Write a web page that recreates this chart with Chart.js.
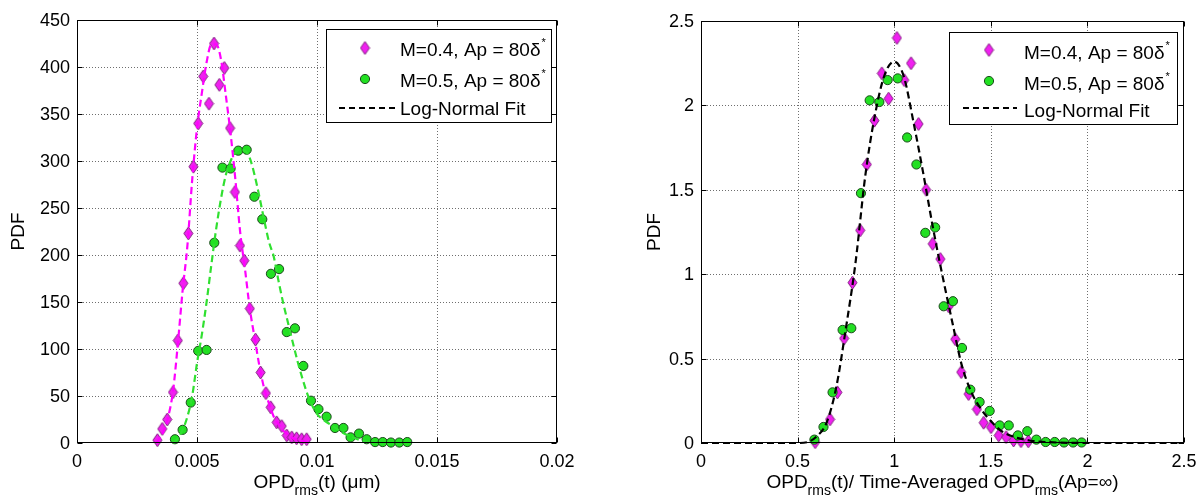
<!DOCTYPE html>
<html>
<head>
<meta charset="utf-8">
<script src="https://cdn.jsdelivr.net/npm/chart.js@4.4.0/dist/chart.umd.min.js"></script>
<style>
  html, body { margin: 0; padding: 0; background: #fff; }
  #wrap { position: relative; width: 1202px; height: 499px; overflow: hidden; }
  canvas { position: absolute; top: 0; }
  #leftChart { left: 0; }
  #rightChart { left: 600px; }
</style>
</head>
<body>
<div id="wrap">
  <canvas id="leftChart" width="600" height="499"></canvas>
  <canvas id="rightChart" width="602" height="499"></canvas>
</div>
<script>
// ========== DATA ==========

// left panel: OPDrms(t) in um
const leftM04X = [0.00335, 0.00355, 0.00376, 0.00400, 0.00420, 0.00443, 0.00464, 0.00485, 0.00505, 0.00526,
                  0.00550, 0.00571, 0.00593, 0.00614, 0.00638, 0.00658, 0.00679, 0.00697, 0.00720, 0.00744,
                  0.00765, 0.00787, 0.00807, 0.00832, 0.00853, 0.00874, 0.00895, 0.00915, 0.00936, 0.00957];
const leftM04Y = [3, 15, 25, 54, 109, 170, 223, 294, 340, 390,
                  361, 425, 381, 399, 335, 267, 210, 194, 143, 110,
                  75, 53, 38, 22, 18, 8, 6, 5, 4, 4];

const leftM05X = [0.00408, 0.00440, 0.00474, 0.00505, 0.00540, 0.00572, 0.00606, 0.00640, 0.00672, 0.00707,
                  0.00739, 0.00772, 0.00808, 0.00842, 0.00874, 0.00908, 0.00943, 0.00975, 0.01006, 0.01040,
                  0.01075, 0.01110, 0.01140, 0.01175, 0.01207, 0.01242, 0.01274, 0.01308, 0.01343, 0.01376];
const leftM05Y = [4, 14, 43, 98, 99, 213, 293, 292, 311, 312,
                  262, 238, 180, 185, 118, 122, 82, 45, 36, 28,
                  16, 16, 6, 10, 4, 1, 1, 0.5, 0.5, 1];

const leftFit04X = [0.0033, 0.0036, 0.0038, 0.0040, 0.0042, 0.0044, 0.0046, 0.0048, 0.0050, 0.0052, 0.0054,
                    0.0056, 0.0058, 0.0060, 0.0062, 0.0064, 0.0066, 0.0068, 0.0070, 0.0072, 0.0074, 0.0076,
                    0.0078, 0.0080, 0.0082, 0.0084, 0.0086, 0.0088, 0.0090, 0.0093, 0.0096];
const leftFit04Y = [0, 12, 28, 55, 105, 162, 210, 280, 335, 372, 405,
                    424, 424, 408, 370, 329, 280, 224, 185, 143, 112, 82,
                    58, 42, 28, 20, 13, 9, 5, 2.5, 1];

const leftFit05X = [0.0040, 0.0042, 0.0044, 0.0046, 0.0048, 0.0050, 0.0052, 0.0054, 0.0056, 0.0058,
                    0.0060, 0.0062, 0.0064, 0.0066, 0.0068, 0.0070, 0.0072, 0.0074, 0.0076, 0.0078,
                    0.0080, 0.0082, 0.0084, 0.0086, 0.0088, 0.0090, 0.0092, 0.0094, 0.0096, 0.0098,
                    0.0100, 0.0103, 0.0106, 0.0110, 0.0114, 0.0118, 0.0122];
const leftFit05Y = [0, 5, 14, 28, 50, 85, 115, 150, 190, 228,
                    260, 285, 300, 309, 312, 311, 303, 285, 262, 237,
                    214, 198, 172, 148, 127, 106, 86, 68, 52, 40,
                    31, 24, 19, 12, 7, 3, 1];

const leftXTicks = [0, 0.005, 0.01, 0.015, 0.02];
const leftXLabels = ['0', '0.005', '0.01', '0.015', '0.02'];
const leftYTicks = [0, 50, 100, 150, 200, 250, 300, 350, 400, 450];
const leftYLabels = ['0', '50', '100', '150', '200', '250', '300', '350', '400', '450'];

// right panel: normalised by time-averaged OPDrms
const rightM04X = [0.591, 0.668, 0.706, 0.741, 0.784, 0.824, 0.858, 0.898, 0.936, 0.971,
                   1.014, 1.052, 1.087, 1.126, 1.165, 1.199, 1.239, 1.282, 1.316, 1.347,
                   1.385, 1.428, 1.463, 1.501, 1.541, 1.579, 1.618, 1.656, 1.694];
const rightM04Y = [0.005, 0.14, 0.30, 0.62, 0.95, 1.26, 1.65, 1.91, 2.19, 2.04,
                   2.40, 2.15, 2.25, 1.89, 1.50, 1.18, 1.09, 0.81, 0.615, 0.42,
                   0.29, 0.20, 0.12, 0.094, 0.045, 0.035, 0.015, 0.011, 0.01];

const rightM05X = [0.587, 0.634, 0.681, 0.733, 0.778, 0.828, 0.873, 0.923, 0.966, 1.018,
                   1.067, 1.115, 1.161, 1.212, 1.256, 1.304, 1.351, 1.394, 1.442, 1.494,
                   1.546, 1.593, 1.640, 1.689, 1.736, 1.784, 1.831, 1.879, 1.926, 1.970];
const rightM05Y = [0.02, 0.095, 0.30, 0.67, 0.68, 1.48, 2.03, 2.02, 2.15, 2.16,
                   1.81, 1.65, 1.245, 1.277, 0.81, 0.84, 0.563, 0.316, 0.243, 0.19,
                   0.104, 0.104, 0.045, 0.07, 0.02, 0.006, 0.006, 0.003, 0.003, 0.003];

const rightFitX = [0, 0.50, 0.55, 0.60, 0.65, 0.70, 0.75, 0.80, 0.85, 0.90, 0.95, 1.00, 1.05, 1.10,
                   1.15, 1.20, 1.25, 1.30, 1.35, 1.40, 1.45, 1.50, 1.55, 1.60, 1.70, 1.80, 2.00, 2.50];
const rightFitY = [0, 0, 0.005, 0.04, 0.12, 0.33, 0.68, 1.07, 1.58, 1.94, 2.18, 2.26, 2.17, 1.90,
                   1.60, 1.28, 0.99, 0.72, 0.46, 0.30, 0.20, 0.13, 0.075, 0.045, 0.015, 0.005, 0, 0];

const rightXTicks = [0, 0.5, 1, 1.5, 2, 2.5];
const rightXLabels = ['0', '0.5', '1', '1.5', '2', '2.5'];
const rightYTicks = [0, 0.5, 1, 1.5, 2, 2.5];
const rightYLabels = ['0', '0.5', '1', '1.5', '2', '2.5'];

const legendLabels = ['M=0.4, Ap = 80\u03b4', 'M=0.5, Ap = 80\u03b4', 'Log-Normal Fit'];


// ========== STYLE ==========
const FONT = '"Liberation Sans", Arial, Helvetica, sans-serif';
const MAG_FILL = '#f020f0';
const MAG_EDGE = '#80207f';
const GRN_FILL = '#22e022';
const GRN_EDGE = '#1d4a1d';

function makeDiamond(w, h) {
    const c = document.createElement('canvas');
    c.width = w + 2;
    c.height = h + 2;
    const g = c.getContext('2d');
    g.beginPath();
    g.moveTo(c.width / 2, 1);
    g.lineTo(c.width - 1, c.height / 2);
    g.lineTo(c.width / 2, c.height - 1);
    g.lineTo(1, c.height / 2);
    g.closePath();
    g.fillStyle = MAG_FILL;
    g.fill();
    g.lineWidth = 1;
    g.strokeStyle = MAG_EDGE;
    g.stroke();
    return c;
}
const diamondImg = makeDiamond(9, 13);

function zip(xs, ys) {
    return xs.map((x, i) => ({ x: x, y: ys[i] }));
}

function markerSet(xs, ys, kind) {
    if (kind === 'diamond') {
        return { data: zip(xs, ys), pointStyle: diamondImg, pointRadius: 6, showLine: false, clip: false, order: 2 };
    }
    return {
        data: zip(xs, ys), pointStyle: 'circle', pointRadius: 4.6, borderWidth: 1,
        backgroundColor: GRN_FILL, borderColor: GRN_EDGE, showLine: false, clip: false, order: 1
    };
}

function fitSet(xs, ys, color) {
    return {
        data: zip(xs, ys), showLine: true, pointRadius: 0, borderColor: color, borderWidth: 2.2,
        borderDash: [7, 4], cubicInterpolationMode: 'monotone', clip: false, order: 0
    };
}


// ========== DRAW HELPERS ==========
function drawRich(ctx, parts, cx, baseline) {
    let total = 0;
    parts.forEach(p => {
        ctx.font = (p.sub ? 14 : 19) + 'px ' + FONT;
        p.w = ctx.measureText(p.t).width;
        total += p.w;
    });
    let x = cx - total / 2;
    ctx.textAlign = 'left';
    ctx.textBaseline = 'alphabetic';
    parts.forEach(p => {
        ctx.font = (p.sub ? 14 : 19) + 'px ' + FONT;
        ctx.fillText(p.t, x, baseline + (p.sub ? 7 : 0));
        x += p.w;
    });
}

function drawLegend(ctx, L) {
    ctx.save();
    ctx.fillStyle = '#fff';
    ctx.fillRect(L.x, L.y, L.w, L.h);
    ctx.strokeStyle = '#000';
    ctx.lineWidth = 1;
    ctx.setLineDash([]);
    ctx.strokeRect(L.x + 0.5, L.y + 0.5, L.w, L.h);

    // markers
    ctx.drawImage(diamondImg, L.mx - diamondImg.width / 2, L.my[0] - diamondImg.height / 2);
    ctx.beginPath();
    ctx.arc(L.mx, L.my[1], 4.6, 0, Math.PI * 2);
    ctx.fillStyle = GRN_FILL;
    ctx.fill();
    ctx.strokeStyle = GRN_EDGE;
    ctx.stroke();

    ctx.beginPath();
    ctx.setLineDash([6, 4]);
    ctx.lineWidth = 1.8;
    ctx.strokeStyle = '#000';
    ctx.moveTo(L.lx0, L.my[2]);
    ctx.lineTo(L.lx1, L.my[2]);
    ctx.stroke();
    ctx.setLineDash([]);

    // texts
    ctx.fillStyle = '#000';
    ctx.textAlign = 'left';
    ctx.textBaseline = 'alphabetic';
    legendLabels.forEach((txt, i) => {
        ctx.font = '19px ' + FONT;
        ctx.fillText(txt, L.tx, L.tb[i]);
        if (i < 2) {
            const w = ctx.measureText(txt).width;
            ctx.font = '11px ' + FONT;
            ctx.fillText('*', L.tx + w + 1, L.tb[i] - 10);
        }
    });
    ctx.restore();
}

function axesPlugin(cfg) {
    return {
        id: 'matlabAxes',
        beforeDatasetsDraw(chart) {
            const { ctx, chartArea: a, scales: { x, y } } = chart;
            ctx.save();
            ctx.strokeStyle = '#6e6e6e';
            ctx.lineWidth = 1;
            ctx.setLineDash([1, 2]);
            ctx.beginPath();
            x.ticks.forEach(t => {
                const px = Math.round(x.getPixelForValue(t.value)) + 0.5;
                if (px > a.left + 2 && px < a.right - 2) {
                    ctx.moveTo(px, a.top);
                    ctx.lineTo(px, a.bottom);
                }
            });
            y.ticks.forEach(t => {
                const py = Math.round(y.getPixelForValue(t.value)) + 0.5;
                if (py > a.top + 2 && py < a.bottom - 2) {
                    ctx.moveTo(a.left, py);
                    ctx.lineTo(a.right, py);
                }
            });
            ctx.stroke();
            ctx.restore();
        },
        afterDatasetsDraw(chart) {
            const { ctx, chartArea: a, scales: { x, y } } = chart;
            ctx.save();
            // box + inward ticks
            ctx.strokeStyle = '#000';
            ctx.lineWidth = 1;
            ctx.setLineDash([]);
            const L = Math.round(a.left) + 0.5, R = Math.round(a.right) - 0.5;
            const T = Math.round(a.top) + 0.5, B = Math.round(a.bottom) - 0.5;
            ctx.strokeRect(L, T, R - L, B - T);
            ctx.beginPath();
            x.ticks.forEach(t => {
                const px = Math.round(x.getPixelForValue(t.value)) + 0.5;
                ctx.moveTo(px, B); ctx.lineTo(px, B - 5);
                ctx.moveTo(px, T); ctx.lineTo(px, T + 5);
            });
            y.ticks.forEach(t => {
                const py = Math.round(y.getPixelForValue(t.value)) + 0.5;
                ctx.moveTo(L, py); ctx.lineTo(L + 5, py);
                ctx.moveTo(R, py); ctx.lineTo(R - 5, py);
            });
            ctx.stroke();

            // tick labels
            ctx.fillStyle = '#000';
            ctx.font = '18px ' + FONT;
            ctx.textAlign = 'center';
            ctx.textBaseline = 'alphabetic';
            x.ticks.forEach((t, i) => {
                ctx.fillText(cfg.xLabels[i], x.getPixelForValue(t.value), 467);
            });
            ctx.textAlign = 'right';
            ctx.textBaseline = 'middle';
            y.ticks.forEach((t, i) => {
                ctx.fillText(cfg.yLabels[i], a.left - 7, y.getPixelForValue(t.value) + 1);
            });

            // axis titles
            drawRich(ctx, cfg.xTitle, (a.left + a.right) / 2, 488);
            ctx.save();
            ctx.translate(cfg.yTitleX, (a.top + a.bottom) / 2);
            ctx.rotate(-Math.PI / 2);
            ctx.font = '19px ' + FONT;
            ctx.textAlign = 'center';
            ctx.textBaseline = 'middle';
            ctx.fillText('PDF', 0, 0);
            ctx.restore();

            drawLegend(ctx, cfg.legend);
            ctx.restore();
        }
    };
}

function buildChart(id, cfg) {
    return new Chart(document.getElementById(id), {
        type: 'scatter',
        data: { datasets: cfg.datasets },
        options: {
            responsive: false,
            animation: false,
            devicePixelRatio: 1,
            layout: { padding: cfg.padding },
            plugins: { legend: { display: false }, tooltip: { enabled: false } },
            scales: {
                x: {
                    type: 'linear', min: cfg.xTicks[0], max: cfg.xTicks[cfg.xTicks.length - 1],
                    grid: { display: false }, border: { display: false }, ticks: { display: false },
                    afterBuildTicks: s => { s.ticks = cfg.xTicks.map(v => ({ value: v })); },
                    afterFit: s => { s.height = cfg.bottom; }
                },
                y: {
                    type: 'linear', min: cfg.yTicks[0], max: cfg.yTicks[cfg.yTicks.length - 1],
                    grid: { display: false }, border: { display: false }, ticks: { display: false },
                    afterBuildTicks: s => { s.ticks = cfg.yTicks.map(v => ({ value: v })); },
                    afterFit: s => { s.width = cfg.left; }
                }
            }
        },
        plugins: [axesPlugin(cfg)]
    });
}


// ========== LEFT PANEL ==========
buildChart('leftChart', {
    padding: { top: 20, right: 43, left: 0, bottom: 0 },
    left: 77,
    bottom: 56,
    xTicks: leftXTicks, xLabels: leftXLabels,
    yTicks: leftYTicks, yLabels: leftYLabels,
    xTitle: [{ t: 'OPD' }, { t: 'rms', sub: true }, { t: '(t) (\u03bcm)' }],
    yTitleX: 19,
    legend: { x: 326, y: 29, w: 225, h: 93, mx: 365, my: [48, 79, 108], lx0: 339, lx1: 397, tx: 400, tb: [56, 87, 115] },
    datasets: [
        fitSet(leftFit04X, leftFit04Y, '#ff00ff'),
        fitSet(leftFit05X, leftFit05Y, '#30e030'),
        markerSet(leftM04X, leftM04Y, 'diamond'),
        markerSet(leftM05X, leftM05Y, 'circle')
    ]
});


// ========== RIGHT PANEL ==========
buildChart('rightChart', {
    padding: { top: 21, right: 18, left: 0, bottom: 0 },
    left: 101,
    bottom: 56,
    xTicks: rightXTicks, xLabels: rightXLabels,
    yTicks: rightYTicks, yLabels: rightYLabels,
    xTitle: [{ t: 'OPD' }, { t: 'rms', sub: true }, { t: '(t)/ Time-Averaged OPD' }, { t: 'rms', sub: true }, { t: '(Ap=\u221e)' }],
    yTitleX: 55,
    legend: { x: 349, y: 32, w: 228, h: 92, mx: 389, my: [50, 81, 108], lx0: 363, lx1: 417, tx: 424, tb: [59, 90, 117] },
    datasets: [
        fitSet(rightFitX, rightFitY, '#000000'),
        markerSet(rightM04X, rightM04Y, 'diamond'),
        markerSet(rightM05X, rightM05Y, 'circle')
    ]
});
</script>
</body>
</html>
